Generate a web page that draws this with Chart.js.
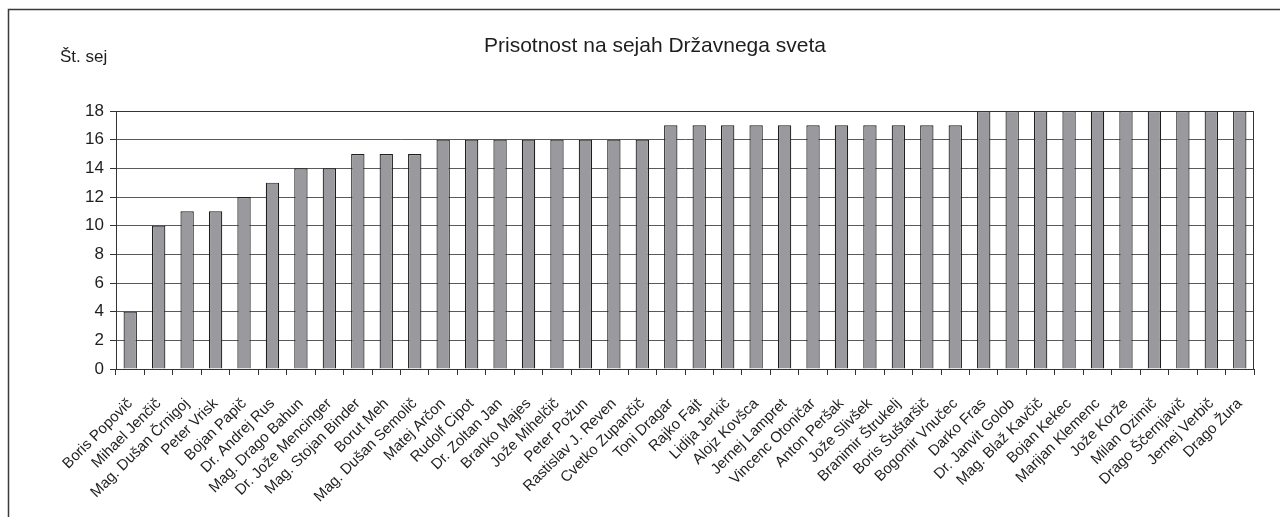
<!DOCTYPE html>
<html>
<head>
<meta charset="utf-8">
<script src="https://cdn.jsdelivr.net/npm/chart.js@4/dist/chart.umd.min.js"></script>
<style>
html,body{margin:0;padding:0;background:#fff;}
#wrap{position:relative;width:1280px;height:517px;}
</style>
</head>
<body>
<div id="wrap"><canvas id="c" width="1280" height="517"></canvas></div>
<script>
const chartTitle = "Prisotnost na sejah Državnega sveta";
const yAxisTitle = "Št. sej";
const members = [
  "Boris Popovič","Mihael Jenčič","Mag. Dušan Črnigoj","Peter Vrisk","Bojan Papič",
  "Dr. Andrej Rus","Mag. Drago Bahun","Dr. Jože Mencinger","Mag. Stojan Binder","Borut Meh",
  "Mag. Dušan Semolič","Matej Arčon","Rudolf Cipot","Dr. Zoltan Jan","Branko Majes",
  "Jože Mihelčič","Peter Požun","Rastislav J. Reven","Cvetko Zupančič","Toni Dragar",
  "Rajko Fajt","Lidija Jerkič","Alojz Kovšca","Jernej Lampret","Vincenc Otoničar",
  "Anton Peršak","Jože Slivšek","Branimir Štrukelj","Boris Šuštaršič","Bogomir Vnučec",
  "Darko Fras","Dr. Janvit Golob","Mag. Blaž Kavčič","Bojan Kekec","Marijan Klemenc",
  "Jože Korže","Milan Ozimič","Drago Ščernjavič","Jernej Verbič","Drago Žura"
];
const sessions = [
  4,10,11,11,12,
  13,14,14,15,15,
  15,16,16,16,16,
  16,16,16,16,17,
  17,17,17,17,17,
  17,17,17,17,17,
  18,18,18,18,18,
  18,18,18,18,18
];
const yTicks = [0,2,4,6,8,10,12,14,16,18];

const FONT = "'Liberation Sans', Arial, sans-serif";

const decor = {
  id: 'decor',
  beforeDraw(chart) {
    const ctx = chart.ctx;
    ctx.save();
    ctx.fillStyle = '#fff';
    ctx.fillRect(0, 0, chart.width, chart.height);
    ctx.strokeStyle = '#3a3a3a';
    ctx.lineWidth = 1.5;
    ctx.beginPath();
    ctx.moveTo(8.5, chart.height);
    ctx.lineTo(8.5, 9.5);
    ctx.lineTo(chart.width, 9.5);
    ctx.stroke();
    ctx.fillStyle = '#1e1e1e';
    ctx.font = "21px " + FONT;
    ctx.textAlign = 'center';
    ctx.textBaseline = 'alphabetic';
    ctx.fillText(chartTitle, 655, 52);
    ctx.font = "17px " + FONT;
    ctx.textAlign = 'left';
    ctx.fillText(yAxisTitle, 60, 62);
    ctx.restore();
  },
  afterDatasetsDraw(chart) {
    const a = chart.chartArea;
    const ctx = chart.ctx;
    ctx.save();
    ctx.strokeStyle = '#333';
    ctx.lineWidth = 1;
    ctx.beginPath();
    ctx.moveTo(a.left, a.top + 0.5);
    ctx.lineTo(a.right - 0.5, a.top + 0.5);
    ctx.lineTo(a.right - 0.5, a.bottom);
    ctx.stroke();
    ctx.restore();
  }
};

new Chart(document.getElementById('c'), {
  type: 'bar',
  data: {
    labels: members,
    datasets: [{
      data: sessions,
      backgroundColor: '#9a9a9e',
      borderColor: '#1e1e1e',
      borderWidth: 1.2,
      barPercentage: 0.47,
      categoryPercentage: 1.0
    }]
  },
  options: {
    responsive: false,
    animation: false,
    layout: { padding: { top: 111, right: 26, left: 0, bottom: 0 } },
    plugins: {
      legend: { display: false },
      title: { display: false },
      tooltip: { enabled: false }
    },
    scales: {
      x: {
        offset: true,
        grid: { display: true, drawOnChartArea: false, offset: true, tickLength: 6, color: '#333' },
        border: { display: true, color: '#333', width: 1 },
        ticks: {
          autoSkip: false, minRotation: 45, maxRotation: 45, padding: 20,
          color: '#1e1e1e', font: { family: FONT, size: 15 }
        },
        afterFit(scale) { scale.height = 148; }
      },
      y: {
        min: 0, max: 18,
        afterBuildTicks(scale) { scale.ticks = yTicks.map(v => ({ value: v })); },
        grid: { color: '#5a5a5a', tickLength: 6, drawTicks: true, tickColor: '#333' },
        border: { display: true, color: '#333', width: 1 },
        ticks: { padding: 6, color: '#1e1e1e', font: { family: FONT, size: 17 } },
        afterFit(scale) { scale.width = 116; }
      }
    }
  },
  plugins: [decor]
});
</script>
</body>
</html>
